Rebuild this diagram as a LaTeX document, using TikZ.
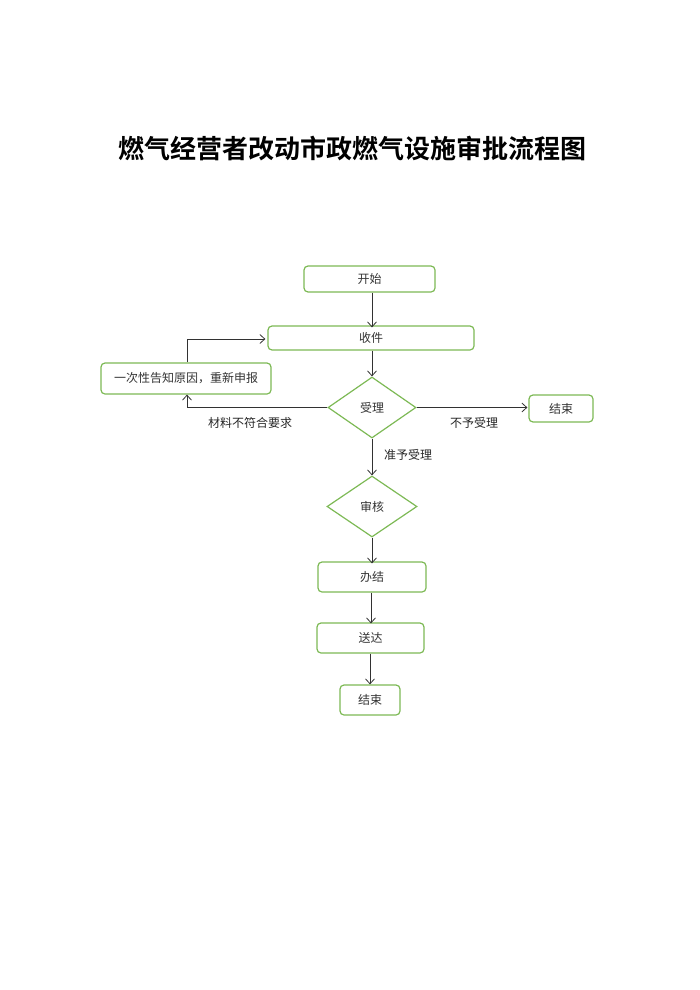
\documentclass[tikz,border=0pt]{standalone}
\usepackage{fontspec}
\setmainfont{Noto Sans CJK SC}
\newfontfamily\titlefont{Noto Sans CJK SC Bold}
\usetikzlibrary{shapes.geometric,arrows.meta}
\definecolor{boxgreen}{RGB}{125,185,85}
\definecolor{linegray}{RGB}{50,50,50}
\begin{document}
\begin{tikzpicture}[x=1pt,y=-1pt,
  stepbox/.style={draw=boxgreen,line width=1.2pt,rounded corners=4pt,minimum height=#1,inner sep=0pt,font=\fontsize{12}{12}\selectfont,text=black!80},
  decision/.style={draw=boxgreen,line width=1.2pt,diamond,inner sep=0pt,minimum width=88pt,minimum height=61pt,aspect=1.44,font=\fontsize{12}{12}\selectfont,text=black!80},
  conn/.style={draw=linegray,line width=0.8pt,-{Straight Barb[length=5pt,width=9pt]}},
  lbl/.style={font=\fontsize{12}{12}\selectfont,text=black!85}]
\useasboundingbox (0,0) rectangle (700,990);
\node[font=\titlefont\fontsize{26}{26}\selectfont] (title) at (352,149) {燃气经营者改动市政燃气设施审批流程图};
\node[stepbox=26pt,minimum width=131pt] (start) at (369.5,279) {开始};
\node[stepbox=24pt,minimum width=206pt] (recv) at (371,338) {收件};
\node[stepbox=31pt,minimum width=170pt] (notify) at (186,378.5) {一次性告知原因，重新申报};
\node[decision] (accept) at (372,407.5) {受理};
\node[stepbox=27pt,minimum width=64pt] (end1) at (561,408.5) {结束};
\node[decision,minimum width=90pt] (review) at (372,506.5) {审核};
\node[stepbox=30pt,minimum width=108pt] (done) at (372,577) {办结};
\node[stepbox=30pt,minimum width=107pt] (deliver) at (370.5,638) {送达};
\node[stepbox=30pt,minimum width=60pt] (end2) at (370,700) {结束};
\coordinate (c1) at (187,407.5);
\coordinate (c2) at (187,339);
\draw[conn] (start.south -| 372,0) -- ([yshift=-2pt]recv.north -| 372,0);
\draw[conn] (recv.south -| accept.north) -- (accept.north);
\draw[conn] (accept.west) -- (c1) -- (notify.south -| c1);
\draw[conn] (notify.north -| c2) -- (c2) -- ([xshift=-2pt]recv.west |- c2);
\draw[conn] (accept.east) -- ([xshift=-1pt]end1.west |- accept.east);
\draw[conn] (accept.south) -- (review.north);
\draw[conn] (review.south) -- ([yshift=-2pt]done.north);
\draw[conn] (done.south -| 371,0) -- ([yshift=-1pt]deliver.north -| 371,0);
\draw[conn] (deliver.south -| end2.north) -- (end2.north);
\node[lbl] (lab1) at (250,423) {材料不符合要求};
\node[lbl] (lab2) at (474,423) {不予受理};
\node[lbl] (lab3) at (408,455) {准予受理};
\end{tikzpicture}
\end{document}
